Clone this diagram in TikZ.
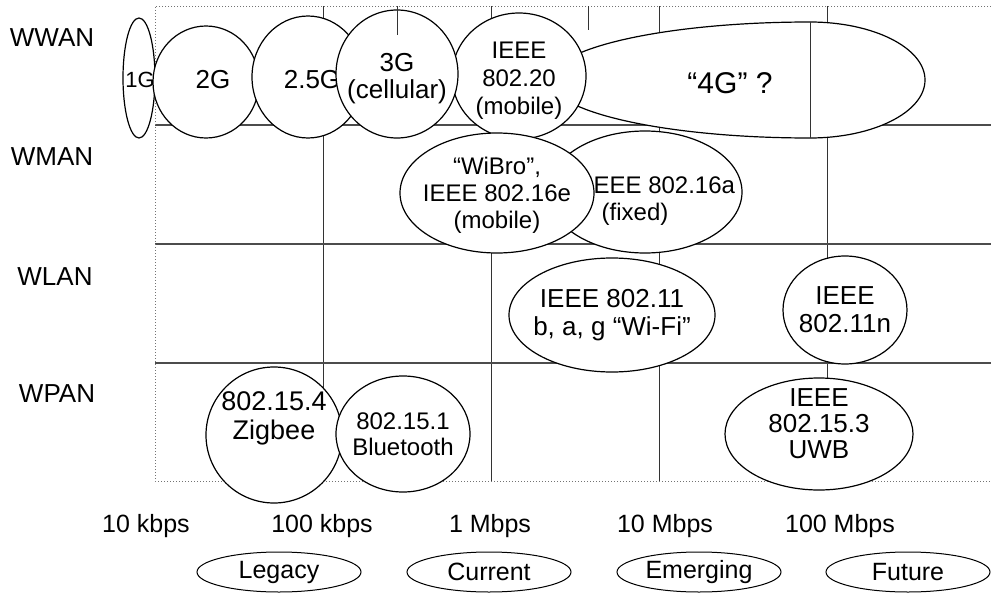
\documentclass[tikz,border=0pt]{standalone}
\usepackage{fontspec}
\setmainfont{Liberation Sans}
\usetikzlibrary{shapes.geometric}
\begin{document}
\begin{tikzpicture}[x=1pt,y=-1pt,
  bub/.style={ellipse, draw, line width=1.2pt, fill=white, inner sep=0pt},
  oval/.style={ellipse, draw, line width=1pt, fill=white, inner sep=0pt, minimum width=164pt, minimum height=40pt, font=\fontsize{25}{30}\selectfont},
  txt/.style={inner sep=0pt, align=center, font=\fontsize{24}{30}\selectfont},
  big/.style={inner sep=0pt, align=center, font=\fontsize{26}{30}\selectfont},
  axis/.style={inner sep=0pt, font=\fontsize{25}{30}\selectfont},
  gridv/.style={line width=1pt, black!80},
  gridh/.style={line width=1.2pt, black!70},
  frame/.style={line width=1pt, black!55, dotted}]
\useasboundingbox (0,0) rectangle (991,597);
\fill[white] (0,0) rectangle (991,597);
% grid
\foreach \x in {323,491,659,827} \draw[gridv] (\x,6) -- (\x,481);
\foreach \y in {125,244,363} \draw[gridh] (155,\y) -- (991,\y);
\draw[frame] (991,6) -- (155,6) -- (155,481) -- (991,481);
% row labels
\node[big] (wwan) at (52,38) {WWAN};
\node[big] (wman) at (52,157) {WMAN};
\node[big] (wlan) at (55,277) {WLAN};
\node[big] (wpan) at (57,394) {WPAN};
% WWAN row
\path[draw, line width=1.2pt, fill=white] (810,22) arc[start angle=270, end angle=90, x radius=260, y radius=58]
  arc[start angle=90, end angle=-90, x radius=115, y radius=58] -- cycle;
\draw[gridv] (810,22) -- (810,138);
\node[inner sep=0pt, font=\fontsize{30}{34}\selectfont] (t4g) at (730,83) {“4G” ?};
\node[bub, minimum width=134pt, minimum height=126pt] (e20) at (519,76) {};
\node[txt] (t20) at (519,81) {IEEE\\[-2pt]802.20\\[-2pt](mobile)};
\node[bub, minimum width=32pt, minimum height=120pt] (g1) at (139,78) {};
\node[inner sep=0pt, font=\fontsize{22}{26}\selectfont] (t1) at (140,80) {1G};
\node[bub, minimum width=106pt, minimum height=112pt] (g2) at (206,82) {};
\node[big] (t2) at (213,80) {2G};
\node[bub, minimum width=112pt, minimum height=122pt] (g25) at (308,77) {};
\node[big] (t25) at (312,80) {2.5G};
\node[bub, minimum width=122pt, minimum height=128pt] (g3) at (397,74) {};
\node[big] (t3) at (397,79) {3G\\[-3pt](cellular)};
\draw[gridv] (397,6) -- (397,35);
\draw[gridv] (588,6) -- (588,30);
% WMAN row
\node[bub, minimum width=194pt, minimum height=122pt] (e16a) at (645,192) {};
\node[txt] (t16a) at (661,185) {IEEE 802.16a};
\node[txt] (tfix) at (635,214) {(fixed)};
\node[bub, minimum width=194pt, minimum height=120pt] (ewb) at (497,193) {};
\node[txt] (twb) at (497,195) {“WiBro”,\\[-3pt]IEEE 802.16e\\[-3pt](mobile)};
% WLAN row
\node[bub, minimum width=206pt, minimum height=114pt] (ewifi) at (612,315) {};
\node[big] (twifi) at (612,315) {IEEE 802.11\\[-2pt]b, a, g “Wi-Fi”};
\node[bub, minimum width=124pt, minimum height=108pt] (e11n) at (845,310) {};
\node[big] (t11n) at (845,310) {IEEE\\[-2pt]802.11n};
% WPAN row
\node[bub, minimum width=136pt, minimum height=136pt] (ezig) at (274,435) {};
\node[inner sep=0pt, align=center, font=\fontsize{27}{31}\selectfont] (tzig) at (274,418) {802.15.4\\[-2pt]Zigbee};
\node[bub, minimum width=134pt, minimum height=116pt] (ebt) at (403,434) {};
\node[txt] (tbt) at (403,434) {802.15.1\\[-4pt]Bluetooth};
\node[bub, minimum width=188pt, minimum height=112pt] (euwb) at (819,434) {};
\node[big] (tuwb) at (819,424) {IEEE\\[-4pt]802.15.3\\[-4pt]UWB};
% axis labels
\node[axis] (a1) at (146,526) {10 kbps};
\node[axis] (a2) at (322,526) {100 kbps};
\node[axis] (a3) at (490,526) {1 Mbps};
\node[axis] (a4) at (665,526) {10 Mbps};
\node[axis] (a5) at (840,526) {100 Mbps};
% eras
\node[oval] (leg) at (279,572) {Legacy};
\node[oval] (cur) at (489,572) {Current};
\node[oval] (emg) at (699,572) {Emerging};
\node[oval] (fut) at (908,572) {Future};
\end{tikzpicture}
\end{document}
